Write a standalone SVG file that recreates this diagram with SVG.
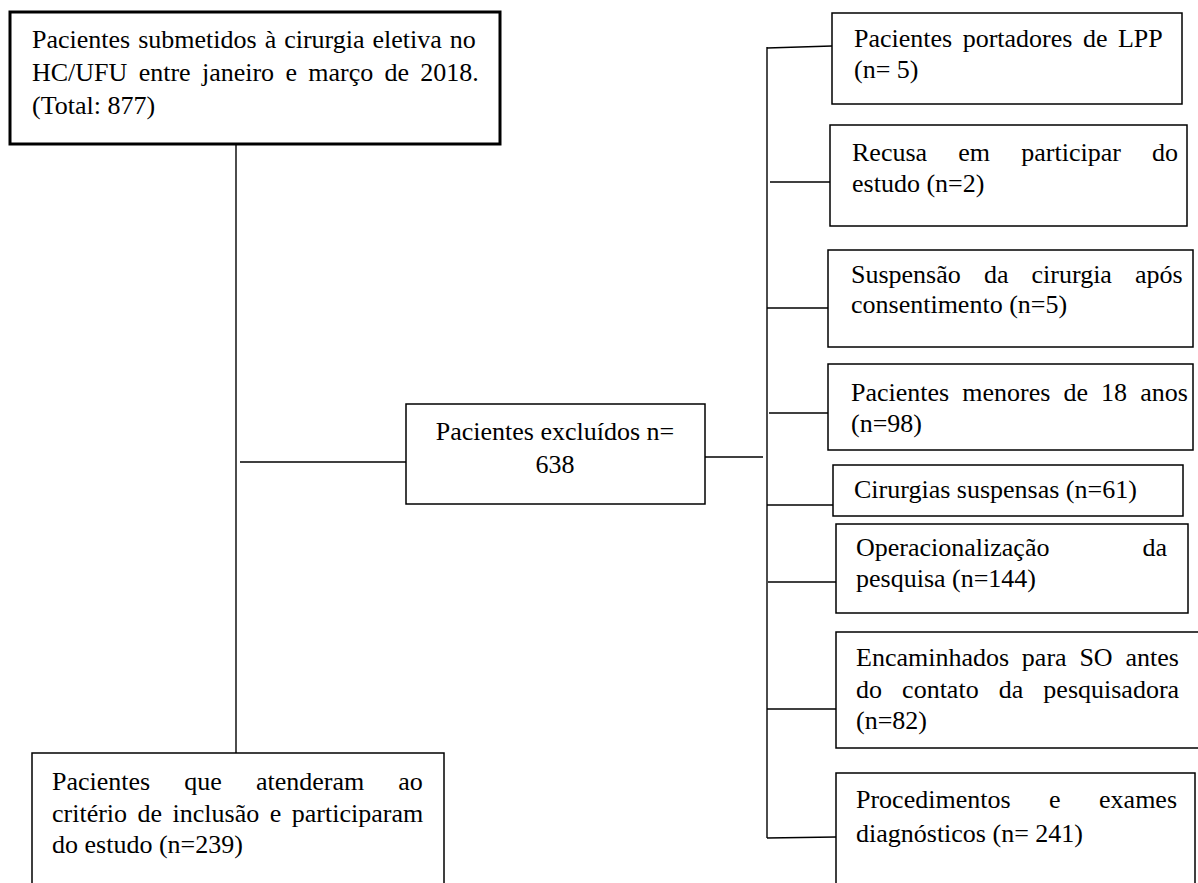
<svg xmlns="http://www.w3.org/2000/svg" width="1198" height="883" viewBox="0 0 1198 883">
<style>
text{font-family:"Liberation Serif","Times New Roman",serif;font-size:26px;fill:#000}
.box{fill:#fff;stroke:#000;stroke-width:1.5}
.thick{fill:#fff;stroke:#000;stroke-width:3}
.ln{fill:none;stroke:#000;stroke-width:1.4}
.mid{text-anchor:middle}
.end{text-anchor:end}
</style>
<rect width="1198" height="883" fill="#fff"/>
<g id="connectors">
<line class="ln" x1="236" y1="145" x2="236" y2="753"/>
<line class="ln" x1="240" y1="462" x2="406" y2="462"/>
<line class="ln" x1="705" y1="457" x2="763" y2="457"/>
<line class="ln" x1="767" y1="47" x2="767" y2="838"/>
<line class="ln" x1="767" y1="48" x2="832" y2="46"/>
<line class="ln" x1="770" y1="182" x2="830" y2="182"/>
<line class="ln" x1="767" y1="308" x2="828" y2="308"/>
<line class="ln" x1="769" y1="413" x2="828" y2="413"/>
<line class="ln" x1="767" y1="505" x2="833" y2="505"/>
<line class="ln" x1="768" y1="582" x2="836" y2="582"/>
<line class="ln" x1="767" y1="709" x2="836" y2="709"/>
<line class="ln" x1="767" y1="838" x2="836" y2="837"/>
</g>
<g id="n-total">
<rect class="thick" x="10" y="12" width="490" height="132"/>
<text x="32" y="48" style="word-spacing:1.5px">Pacientes submetidos à cirurgia eletiva no</text>
<text x="32" y="81" style="word-spacing:4.8px">HC/UFU entre janeiro e março de 2018.</text>
<text x="32" y="114">(Total: 877)</text>
</g>
<g id="n-excluidos">
<rect class="box" x="406" y="404" width="299" height="100"/>
<text class="mid" x="555" y="440">Pacientes excluídos n=</text>
<text class="mid" x="555" y="473">638</text>
</g>
<g id="n-lpp">
<rect class="box" x="832" y="13" width="350" height="91"/>
<text x="854" y="47" style="word-spacing:4px">Pacientes portadores de LPP</text>
<text x="854" y="78">(n= 5)</text>
</g>
<g id="n-recusa">
<rect class="box" x="830" y="125" width="357" height="101"/>
<text x="852" y="161" style="word-spacing:24.7px">Recusa em participar do</text>
<text x="852" y="192">estudo (n=2)</text>
</g>
<g id="n-suspensao">
<rect class="box" x="828" y="250" width="365" height="97"/>
<text x="851" y="283" style="word-spacing:16.6px">Suspensão da cirurgia após</text>
<text x="851" y="313">consentimento (n=5)</text>
</g>
<g id="n-menores">
<rect class="box" x="828" y="364" width="365" height="86"/>
<text x="851" y="401" style="word-spacing:6.6px">Pacientes menores de 18 anos</text>
<text x="851" y="432">(n=98)</text>
</g>
<g id="n-cirurgias">
<rect class="box" x="833" y="465" width="350" height="51"/>
<text x="854" y="498">Cirurgias suspensas (n=61)</text>
</g>
<g id="n-operacionalizacao">
<rect class="box" x="836" y="524" width="352" height="89"/>
<text x="856" y="556">Operacionalização</text>
<text class="end" x="1167" y="556">da</text>
<text x="856" y="587">pesquisa (n=144)</text>
</g>
<g id="n-encaminhados">
<rect class="box" x="836" y="632" width="380" height="116"/>
<text x="856" y="666" style="word-spacing:6.3px">Encaminhados para SO antes</text>
<text x="856" y="698" style="word-spacing:13.6px">do contato da pesquisadora</text>
<text x="856" y="729">(n=82)</text>
</g>
<g id="n-procedimentos">
<rect class="box" x="836" y="773" width="359" height="140"/>
<text x="856" y="808" style="word-spacing:32px">Procedimentos e exames</text>
<text x="856" y="842">diagnósticos (n= 241)</text>
</g>
<g id="n-incluidos">
<rect class="box" x="32" y="753" width="412" height="160"/>
<text x="52" y="790" style="word-spacing:27.6px">Pacientes que atenderam ao</text>
<text x="52" y="822" style="word-spacing:4px">critério de inclusão e participaram</text>
<text x="52" y="853">do estudo (n=239)</text>
</g>
</svg>
